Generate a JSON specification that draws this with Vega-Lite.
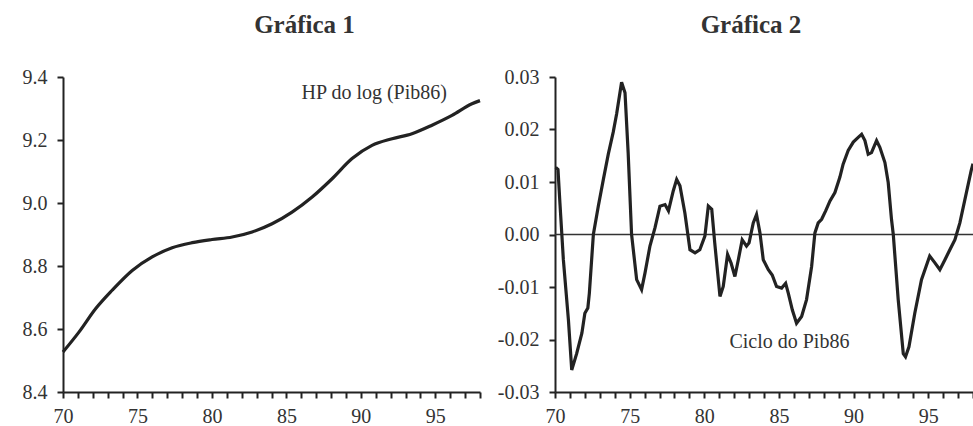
{
  "$schema": "https://vega.github.io/schema/vega-lite/v6.json",
  "background": "white",
  "padding": {"left": 22, "top": 13, "right": 0, "bottom": 0},
  "bounds": "flush",
  "spacing": 75,
  "config": {
    "view": {"stroke": null},
    "font": "Liberation Serif",
    "axis": {
      "grid": false,
      "domainColor": "#222",
      "domainWidth": 2,
      "tickColor": "#222",
      "tickWidth": 2,
      "labelFont": "Liberation Serif",
      "labelFontSize": 20,
      "labelColor": "#333",
      "title": null
    }
  },
  "datasets": {
    "trend": [
      {"t": 70.0, "v": 8.527}, {"t": 71.07, "v": 8.59}, {"t": 72.2, "v": 8.665}, {"t": 73.3, "v": 8.723},
      {"t": 74.65, "v": 8.786}, {"t": 75.99, "v": 8.829}, {"t": 77.33, "v": 8.858}, {"t": 78.68, "v": 8.874},
      {"t": 80.0, "v": 8.884}, {"t": 81.36, "v": 8.892}, {"t": 82.7, "v": 8.908}, {"t": 84.04, "v": 8.934},
      {"t": 85.38, "v": 8.971}, {"t": 86.73, "v": 9.019}, {"t": 88.07, "v": 9.077}, {"t": 89.41, "v": 9.141},
      {"t": 90.75, "v": 9.183}, {"t": 92.1, "v": 9.204}, {"t": 93.43, "v": 9.22}, {"t": 94.78, "v": 9.247},
      {"t": 96.12, "v": 9.278}, {"t": 97.46, "v": 9.315}, {"t": 98.0, "v": 9.325}
    ],
    "cycle": [
      {"t": 70.05, "v": 0.0128}, {"t": 70.2, "v": 0.0124}, {"t": 70.33, "v": 0.006}, {"t": 70.56, "v": -0.0048},
      {"t": 70.9, "v": -0.0163}, {"t": 71.12, "v": -0.0258}, {"t": 71.45, "v": -0.0227}, {"t": 71.8, "v": -0.0188},
      {"t": 72.0, "v": -0.015}, {"t": 72.2, "v": -0.014}, {"t": 72.3, "v": -0.0112}, {"t": 72.57, "v": 0.0},
      {"t": 72.9, "v": 0.0054}, {"t": 73.24, "v": 0.0105}, {"t": 73.57, "v": 0.0153}, {"t": 73.9, "v": 0.0195},
      {"t": 74.13, "v": 0.023}, {"t": 74.46, "v": 0.029}, {"t": 74.69, "v": 0.027}, {"t": 74.9, "v": 0.0156},
      {"t": 75.13, "v": 0.0}, {"t": 75.47, "v": -0.0086}, {"t": 75.8, "v": -0.0105}, {"t": 76.03, "v": -0.0073},
      {"t": 76.36, "v": -0.0022}, {"t": 76.7, "v": 0.0013}, {"t": 77.03, "v": 0.0054}, {"t": 77.37, "v": 0.0057},
      {"t": 77.6, "v": 0.0045}, {"t": 77.92, "v": 0.0083}, {"t": 78.15, "v": 0.0105}, {"t": 78.37, "v": 0.0093},
      {"t": 78.7, "v": 0.0041}, {"t": 79.04, "v": -0.0029}, {"t": 79.38, "v": -0.0035}, {"t": 79.7, "v": -0.0029},
      {"t": 80.04, "v": -0.0003}, {"t": 80.27, "v": 0.0054}, {"t": 80.5, "v": 0.0048}, {"t": 80.7, "v": -0.0016},
      {"t": 81.05, "v": -0.0118}, {"t": 81.27, "v": -0.0099}, {"t": 81.56, "v": -0.0038}, {"t": 81.79, "v": -0.0054},
      {"t": 82.05, "v": -0.008}, {"t": 82.28, "v": -0.0048}, {"t": 82.54, "v": -0.001}, {"t": 82.83, "v": -0.0022},
      {"t": 83.0, "v": -0.0016}, {"t": 83.28, "v": 0.0022}, {"t": 83.5, "v": 0.0038}, {"t": 83.73, "v": 0.0003},
      {"t": 83.95, "v": -0.0048}, {"t": 84.29, "v": -0.0067}, {"t": 84.55, "v": -0.0077}, {"t": 84.84, "v": -0.0099},
      {"t": 85.18, "v": -0.0102}, {"t": 85.45, "v": -0.0093}, {"t": 85.63, "v": -0.0112}, {"t": 85.9, "v": -0.0144},
      {"t": 86.18, "v": -0.0169}, {"t": 86.52, "v": -0.0156}, {"t": 86.85, "v": -0.0124}, {"t": 87.19, "v": -0.0061},
      {"t": 87.41, "v": 0.0003}, {"t": 87.63, "v": 0.0022}, {"t": 87.86, "v": 0.0029}, {"t": 88.13, "v": 0.0045},
      {"t": 88.42, "v": 0.0064}, {"t": 88.75, "v": 0.008}, {"t": 89.08, "v": 0.0109}, {"t": 89.3, "v": 0.0134},
      {"t": 89.64, "v": 0.016}, {"t": 89.98, "v": 0.0176}, {"t": 90.31, "v": 0.0185}, {"t": 90.54, "v": 0.0191},
      {"t": 90.76, "v": 0.0179}, {"t": 90.98, "v": 0.0153}, {"t": 91.2, "v": 0.0156}, {"t": 91.54, "v": 0.0179},
      {"t": 91.76, "v": 0.0166}, {"t": 92.1, "v": 0.0137}, {"t": 92.32, "v": 0.0099}, {"t": 92.54, "v": 0.0029},
      {"t": 92.66, "v": 0.0}, {"t": 92.99, "v": -0.0124}, {"t": 93.33, "v": -0.0227}, {"t": 93.48, "v": -0.0233},
      {"t": 93.71, "v": -0.0214}, {"t": 94.1, "v": -0.015}, {"t": 94.55, "v": -0.0086}, {"t": 95.1, "v": -0.0041},
      {"t": 95.45, "v": -0.0054}, {"t": 95.78, "v": -0.0067}, {"t": 96.12, "v": -0.0048}, {"t": 96.45, "v": -0.0029},
      {"t": 96.79, "v": -0.001}, {"t": 97.12, "v": 0.0022}, {"t": 97.46, "v": 0.0067}, {"t": 97.88, "v": 0.0122},
      {"t": 98.0, "v": 0.0135}
    ]
  },
  "hconcat": [
    {
      "width": 417,
      "height": 315,
      "title": {"text": "Gráfica 1", "font": "Liberation Serif", "fontSize": 25, "fontWeight": "bold", "color": "#333", "baseline": "alphabetic", "offset": 9, "dx": 33},
      "layer": [
        {
          "data": {"name": "trend"},
          "mark": {"type": "line", "color": "#222", "strokeWidth": 3.2, "interpolate": "monotone"},
          "encoding": {
            "x": {"field": "t", "type": "quantitative", "scale": {"domain": [70, 98], "nice": false, "zero": false},
              "axis": {"values": [70,71,72,73,74,75,76,77,78,79,80,81,82,83,84,85,86,87,88,89,90,91,92,93,94,95,96,97,98],
                "tickCount": 29,
                "labelExpr": "datum.value % 5 == 0 ? datum.value : ''", "labelOverlap": false, "labelFlush": false,
                "tickSize": 6, "labelPadding": 8, "labelFontSize": 20}},
            "y": {"field": "v", "type": "quantitative", "scale": {"domain": [8.4, 9.4], "nice": false, "zero": false},
              "axis": {"values": [8.4, 8.6, 8.8, 9.0, 9.2, 9.4], "format": ".1f", "tickSize": 6, "labelPadding": 10}}
          }
        },
        {
          "data": {"values": [{"t": 90.9, "v": 9.35, "label": "HP do log (Pib86)"}]},
          "mark": {"type": "text", "font": "Liberation Serif", "fontSize": 20, "color": "#333"},
          "encoding": {
            "x": {"field": "t", "type": "quantitative"},
            "y": {"field": "v", "type": "quantitative"},
            "text": {"field": "label"}
          }
        }
      ]
    },
    {
      "width": 418,
      "height": 315,
      "title": {"text": "Gráfica 2", "font": "Liberation Serif", "fontSize": 25, "fontWeight": "bold", "color": "#333", "baseline": "alphabetic", "offset": 9, "dx": -13},
      "layer": [
        {
          "data": {"values": [{"v": 0}]},
          "mark": {"type": "rule", "color": "#333", "strokeWidth": 1.5},
          "encoding": {"y": {"field": "v", "type": "quantitative"}}
        },
        {
          "data": {"name": "cycle"},
          "mark": {"type": "line", "color": "#222", "strokeWidth": 3.2},
          "encoding": {
            "x": {"field": "t", "type": "quantitative", "scale": {"domain": [70, 98], "nice": false, "zero": false},
              "axis": {"values": [70,71,72,73,74,75,76,77,78,79,80,81,82,83,84,85,86,87,88,89,90,91,92,93,94,95,96,97,98],
                "tickCount": 29,
                "labelExpr": "datum.value % 5 == 0 ? datum.value : ''", "labelOverlap": false, "labelFlush": false,
                "tickSize": 6, "labelPadding": 8, "labelFontSize": 20}},
            "y": {"field": "v", "type": "quantitative", "scale": {"domain": [-0.03, 0.03], "nice": false, "zero": false},
              "axis": {"values": [-0.03, -0.02, -0.01, 0, 0.01, 0.02, 0.03], "labelExpr": "replace(format(datum.value, '.2f'), '\u2212', '-')", "tickSize": 6, "labelPadding": 10}}
          }
        },
        {
          "data": {"values": [{"t": 85.7, "v": -0.0204, "label": "Ciclo do Pib86"}]},
          "mark": {"type": "text", "font": "Liberation Serif", "fontSize": 20, "color": "#333"},
          "encoding": {
            "x": {"field": "t", "type": "quantitative"},
            "y": {"field": "v", "type": "quantitative"},
            "text": {"field": "label"}
          }
        }
      ]
    }
  ]
}
